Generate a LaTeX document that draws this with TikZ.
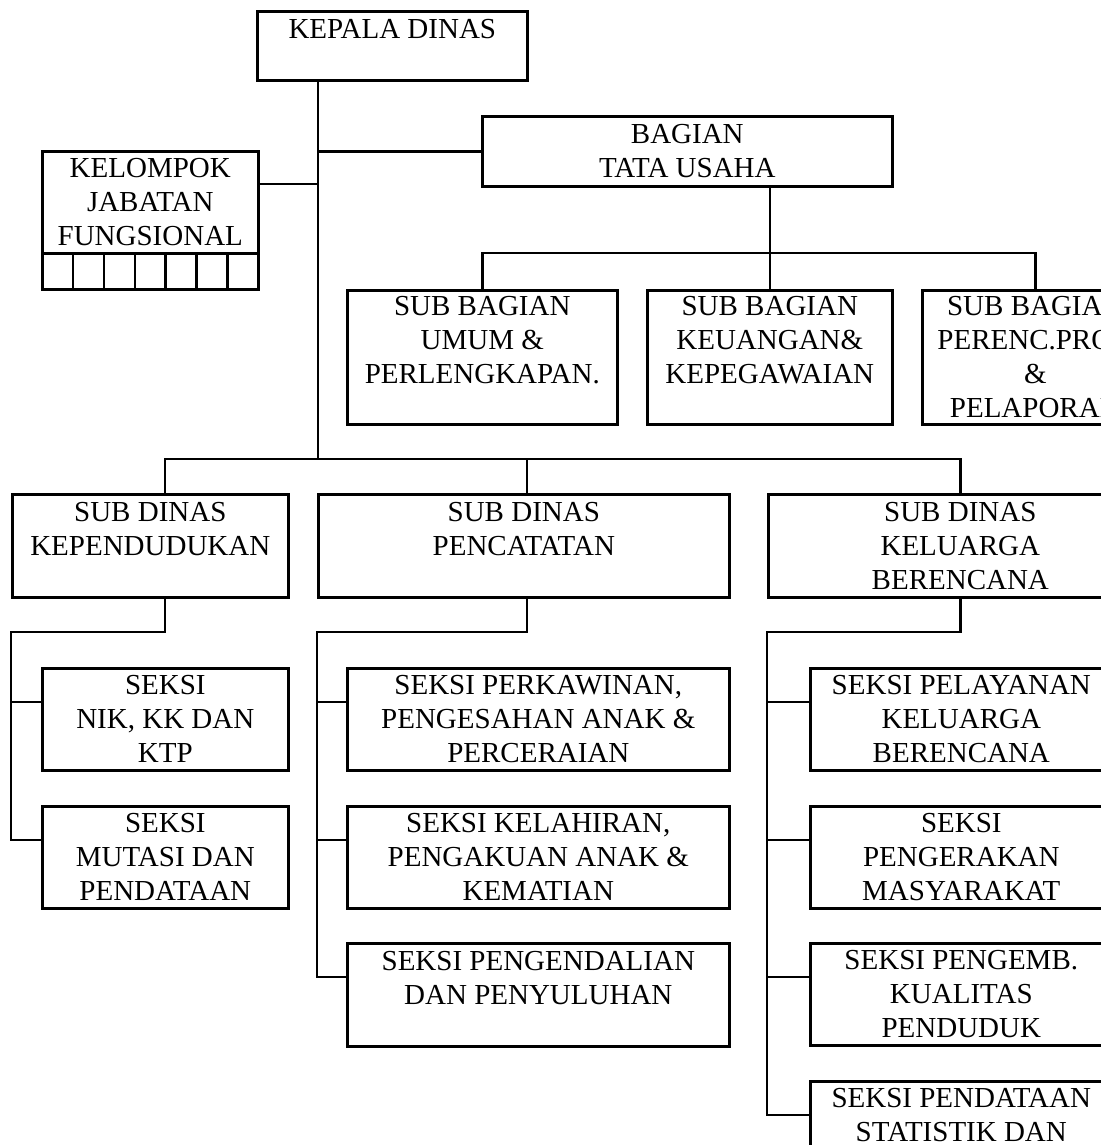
\documentclass[tikz,border=0pt]{standalone}
\usepackage{fontspec}
\setmainfont{Liberation Serif}
\begin{document}
\begin{tikzpicture}[x=0.5pt,y=-0.5pt,line width=1.3pt,
    box/.style={draw, anchor=north west, align=center, inner sep=0pt, font=\fontsize{14.5}{17}\selectfont},
    cell/.style={draw, anchor=north west, minimum width=15.43pt, minimum height=18pt, inner sep=0pt}]
        \useasboundingbox (0,0) rectangle (1101,1145);
        \clip (0,0) rectangle (1101,1145);
        \node [box, minimum width=135pt, minimum height=34.5pt] (kd) at (256,10) {KEPALA DINAS\\ \mbox{}};
        \node [box, minimum width=205pt, minimum height=35pt] (tu) at (481,115) {BAGIAN\\TATA USAHA};
        \node [box, minimum width=108pt, minimum height=51pt] (jf) at (41,150) {KELOMPOK\\JABATAN\\FUNGSIONAL};
        \foreach \i in {0,...,6}
            \node [cell] (jf\i) at ({41+30.857*\i},252) {};
        \node [box, minimum width=135pt, minimum height=67pt] (sb1) at (346,289) {SUB BAGIAN\\UMUM \&\\PERLENGKAPAN.\\ \mbox{}};
        \node [box, minimum width=122.5pt, minimum height=67pt] (sb2) at (646,289) {SUB BAGIAN\\KEUANGAN\&\\KEPEGAWAIAN\\ \mbox{}};
        \node [box, minimum width=113pt, minimum height=67pt] (sb3) at (921,289) {SUB BAGIAN\\PERENC.PROG\\\&\\PELAPORAN};
        \node [box, minimum width=138pt, minimum height=51.5pt] (sd1) at (11,493) {SUB DINAS\\KEPENDUDUKAN\\ \mbox{}};
        \node [box, minimum width=205.5pt, minimum height=51.5pt] (sd2) at (317,493) {SUB DINAS\\PENCATATAN\\ \mbox{}};
        \node [box, minimum width=192pt, minimum height=51.5pt] (sd3) at (767,493) {SUB DINAS\\KELUARGA\\BERENCANA};
        \node [box, minimum width=123pt, minimum height=51pt] (s11) at (41,667) {SEKSI\\NIK, KK DAN\\KTP};
        \node [box, minimum width=123pt, minimum height=51pt] (s12) at (41,805) {SEKSI\\MUTASI DAN\\PENDATAAN};
        \node [box, minimum width=191pt, minimum height=51pt] (s21) at (346,667) {SEKSI PERKAWINAN,\\PENGESAHAN ANAK \&\\PERCERAIAN};
        \node [box, minimum width=191pt, minimum height=51pt] (s22) at (346,805) {SEKSI KELAHIRAN,\\PENGAKUAN ANAK \&\\KEMATIAN};
        \node [box, minimum width=191pt, minimum height=51.5pt] (s23) at (346,942) {SEKSI PENGENDALIAN\\DAN PENYULUHAN\\ \mbox{}};
        \node [box, minimum width=151pt, minimum height=51pt] (s31) at (809,667) {SEKSI PELAYANAN\\KELUARGA\\BERENCANA};
        \node [box, minimum width=151pt, minimum height=51pt] (s32) at (809,805) {SEKSI\\PENGERAKAN\\MASYARAKAT};
        \node [box, minimum width=151pt, minimum height=51pt] (s33) at (809,942) {SEKSI PENGEMB.\\KUALITAS\\PENDUDUK};
        \node [box, minimum width=151pt, minimum height=51pt] (s34) at (809,1080) {SEKSI PENDATAAN\\STATISTIK DAN\\ \mbox{}};
        \coordinate (trunk) at (318,459);
        \coordinate (jfc) at (257,184);
        \coordinate (tub) at (768,253);
        \coordinate (d1) at (165,459);
        \coordinate (d2) at (527,459);
        \coordinate (e1) at (165,632);
        \coordinate (e2) at (527,632);
        \foreach \b in {s11,s12,s21,s22,s23,s31,s32,s33,s34}
            \coordinate (\b x) at ([yshift=-17.5pt]\b.north west);
        \draw (kd.south -| trunk) -- (trunk);
        \draw (tu.west) -- (tu.west -| trunk);
        \draw (jfc) -- (jfc -| trunk);
        \draw (sb2.north |- tu.south) -- (sb2.north);
        \draw (sb1.north) -- (sb1.north |- tub) -- (sb3.north |- tub) -- (sb3.north);
        \draw (d1 |- sd1.north) -- (d1) -- (sd3.north |- trunk) -- (sd3.north);
        \draw (d2) -- (d2 |- sd2.north);
        \draw (e1 |- sd1.south) -- (e1) -| (s12x -| sd1.west) -- (s12x);
        \draw (s11x -| sd1.west) -- (s11x);
        \draw (e2 |- sd2.south) -- (e2) -| (s23x -| sd2.west) -- (s23x);
        \draw (s21x -| sd2.west) -- (s21x);
        \draw (s22x -| sd2.west) -- (s22x);
        \draw (sd3.south) -- (sd3.south |- e1) -| (s34x -| sd3.west) -- (s34x);
        \draw (s31x -| sd3.west) -- (s31x);
        \draw (s32x -| sd3.west) -- (s32x);
        \draw (s33x -| sd3.west) -- (s33x);
    \end{tikzpicture}
\end{document}
